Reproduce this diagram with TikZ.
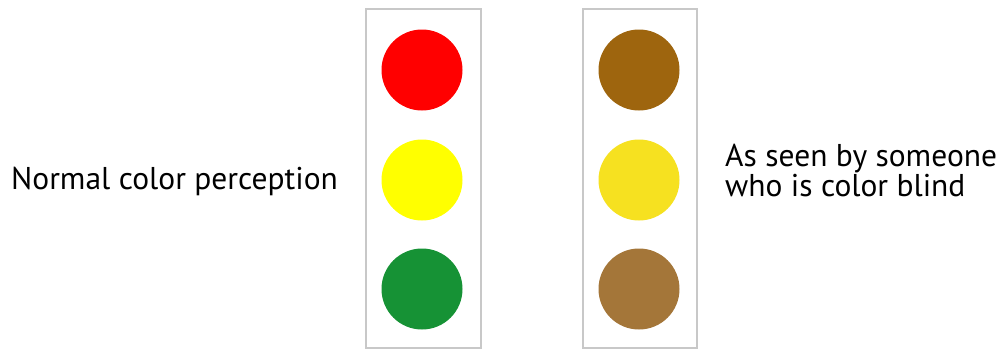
\documentclass[tikz,border=0pt]{standalone}
\usepackage{fontspec}
\setmainfont{PT Sans}
\definecolor{boxgray}{HTML}{C8C8C8}
\definecolor{lred}{HTML}{FF0000}
\definecolor{lyellow}{HTML}{FFFF00}
\definecolor{lgreen}{HTML}{169235}
\definecolor{cbone}{HTML}{9E650E}
\definecolor{cbtwo}{HTML}{F6E120}
\definecolor{cbthree}{HTML}{A47639}
\tikzset{
  housing/.style={draw=boxgray, line width=2pt},
  lamp/.style={circle, minimum size=81pt, inner sep=0pt, draw=none},
  label/.style={inner sep=0pt, font=\fontsize{31.5}{30}\selectfont, text=black}
}
\begin{document}
\begin{tikzpicture}[x=1pt,y=-1pt]
\useasboundingbox (0,0) rectangle (1008,351);
\fill[white] (0,0) rectangle (1008,351);
\node[housing, draw, minimum width=115pt, minimum height=339pt, inner sep=0pt] (boxa) at (423.5,178.5) {};
\node[housing, draw, minimum width=114pt, minimum height=339pt, inner sep=0pt] (boxb) at (640,178.5) {};
\node[lamp, fill=lred] (ra) at (422,70) {};
\node[lamp, fill=lyellow] (ya) at (422,180) {};
\node[lamp, fill=lgreen] (ga) at (422,289) {};
\node[lamp, fill=cbone] (rb) at (639,70) {};
\node[lamp, fill=cbtwo] (yb) at (639,180) {};
\node[lamp, fill=cbthree] (gb) at (639,289) {};
\node[label, anchor=base west] (ta) at (11,189) {Normal color perception};
\node[label, anchor=base west] (tb1) at (725,166) {As seen by someone};
\node[label, anchor=base west] (tb2) at (725,196) {who is color blind};
\end{tikzpicture}
\end{document}
